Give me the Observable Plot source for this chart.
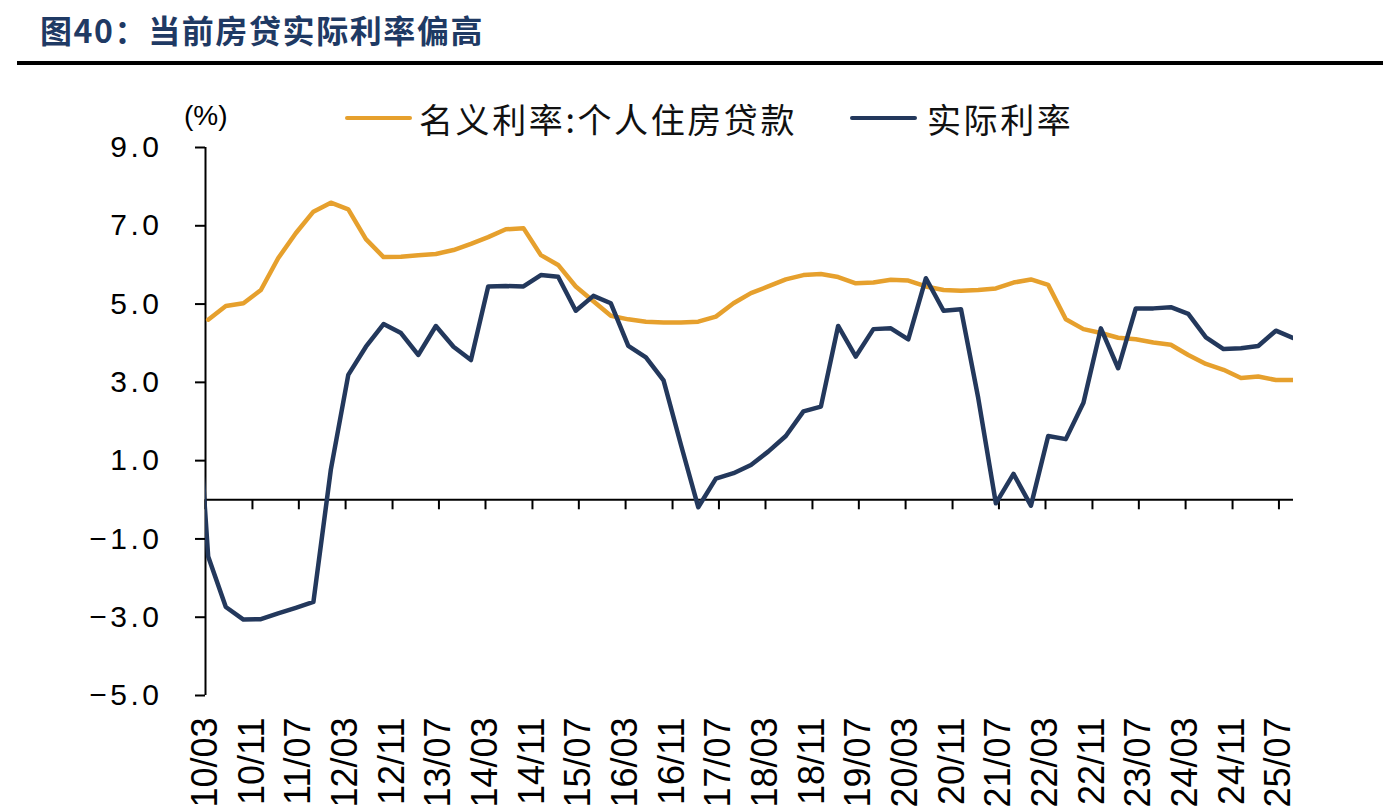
<!DOCTYPE html>
<html>
<head>
<meta charset="utf-8">
<script src="https://cdn.jsdelivr.net/npm/d3@7"></script>
<script src="https://cdn.jsdelivr.net/npm/@observablehq/plot@0.6"></script>
<style>
html, body { margin: 0; padding: 0; background: #fff; width: 1387px; height: 811px; overflow: hidden; }
#wrap { position: relative; width: 1387px; height: 811px; }
#title { position: absolute; left: 40px; top: 9px; font-family: "Noto Sans CJK SC"; font-weight: 700; font-size: 32px; line-height: 40px; color: #1f3a64; letter-spacing: 1.6px; white-space: nowrap; }
#rule { position: absolute; left: 17px; top: 61px; width: 1366px; height: 4px; background: #000; }
#chart { position: absolute; left: 0; top: 80px; }
.leg { position: absolute; top: 98px; height: 40px; display: flex; align-items: center; font-family: "Noto Sans CJK SC"; font-size: 34px; letter-spacing: 2.6px; color: #111; white-space: nowrap; }
.sw { display: inline-block; width: 67px; height: 4px; border-radius: 2px; margin-right: 7px; }
#unit { position: absolute; left: 184px; top: 100px; font-family: "Liberation Sans"; font-size: 28px; color: #000; }
g[aria-label="y-axis tick label"] text { letter-spacing: 3.5px; }
</style>
</head>
<body>
<div id="wrap">
  <div id="title"></div>
  <div id="rule"></div>
  <div id="unit"></div>
  <div id="legend"></div>
  <div id="chart"></div>
</div>
<script>
// ---- Data ----
const titleText = "图40：当前房贷实际利率偏高";
const unitText = "(%)";
const seriesNames = ["名义利率:个人住房贷款", "实际利率"];
const seriesColors = ["#e6a02d", "#23385c"];

// quarterly observations 2010-03 ... 2025-09
const nominalRate = [
  4.60, 4.95, 5.02, 5.36, 6.17, 6.81, 7.36, 7.59, 7.42, 6.66,
  6.20, 6.21, 6.25, 6.28, 6.38, 6.54, 6.71, 6.91, 6.94, 6.25,
  6.00, 5.45, 5.07, 4.70, 4.61, 4.55, 4.53, 4.53, 4.55, 4.68,
  5.02, 5.28, 5.45, 5.63, 5.74, 5.77, 5.69, 5.53, 5.55, 5.62,
  5.60, 5.45, 5.36, 5.34, 5.36, 5.40, 5.55, 5.63, 5.49, 4.61,
  4.36, 4.26, 4.14, 4.10, 4.02, 3.96, 3.70, 3.47, 3.32, 3.11,
  3.15, 3.06, 3.06
];
// real rate: first value is 2009-12 (only its segment into the plot is visible)
const realRate = [
  5.10,
  -1.45, -2.74, -3.06, -3.05, -2.90, -2.76, -2.61, 0.77, 3.19, 3.91,
  4.49, 4.26, 3.70, 4.44, 3.91, 3.57, 5.45, 5.46, 5.45, 5.74,
  5.70, 4.83, 5.21, 5.02, 3.93, 3.64, 3.05, 1.40, -0.19, 0.54,
  0.68, 0.89, 1.23, 1.63, 2.26, 2.38, 4.44, 3.66, 4.36, 4.38,
  4.10, 5.66, 4.83, 4.87, 2.60, -0.09, 0.66, -0.15, 1.63, 1.55,
  2.48, 4.38, 3.36, 4.89, 4.89, 4.92, 4.75, 4.15, 3.85, 3.87,
  3.93, 4.32, 4.13
];
const tickLabels = [
  "10/03", "10/11", "11/07", "12/03", "12/11", "13/07", "14/03", "14/11",
  "15/07", "16/03", "16/11", "17/07", "18/03", "18/11", "19/07", "20/03",
  "20/11", "21/07", "22/03", "22/11", "23/07", "24/03", "24/11", "25/07"
];
const yTicks = [9, 7, 5, 3, 1, -1, -3, -5];

// ---- Build tables ----
function quarterDates(startYear, startMonth, count) {
  const out = [];
  let y = startYear, m = startMonth;
  for (let i = 0; i < count; i++) {
    out.push(new Date(Date.UTC(y, m - 1, 15)));
    m += 3; if (m > 12) { m -= 12; y += 1; }
  }
  return out;
}
const nomDates = quarterDates(2010, 3, nominalRate.length);
const realDates = quarterDates(2009, 12, realRate.length);
const nominalData = nominalRate.map((v, i) => ({date: nomDates[i], value: v}));
const realData = realRate.map((v, i) => ({date: realDates[i], value: v}));
const tickDates = tickLabels.map(s => new Date(Date.UTC(2000 + +s.slice(0, 2), +s.slice(3) - 1, 1)));

const xStart = new Date(Date.UTC(2010, 2, 1));
const xEnd = new Date(Date.UTC(2025, 8, 15));

// ---- Text ----
document.getElementById("title").textContent = titleText;
document.getElementById("unit").textContent = unitText;
const legendPos = [345, 850];
const legend = document.getElementById("legend");
seriesNames.forEach((name, i) => {
  const item = document.createElement("div");
  item.className = "leg";
  item.style.left = legendPos[i] + "px";
  const sw = document.createElement("span");
  sw.className = "sw";
  sw.style.background = seriesColors[i];
  if (i === 1) sw.style.marginRight = "10px";
  const tx = document.createElement("span");
  tx.textContent = name;
  item.appendChild(sw);
  item.appendChild(tx);
  legend.appendChild(item);
});

// ---- Chart ----
const chart = Plot.plot({
  width: 1387,
  height: 731,
  marginTop: 67,
  marginBottom: 116,
  marginLeft: 205,
  marginRight: 94,
  style: {background: "transparent", fontFamily: "Liberation Sans", color: "#000", overflow: "visible"},
  x: {type: "utc", domain: [xStart, xEnd]},
  y: {domain: [-5, 9]},
  marks: [
    Plot.axisY({ticks: yTicks, label: null, tickSize: 10, tickPadding: 33, tickFormat: d3.format(".1f"),
      fontSize: 30, stroke: "#000", strokeWidth: 2, fill: "#000"}),
    Plot.axisX({ticks: tickDates, label: null, tickFormat: d3.utcFormat("%y/%m"), anchor: "bottom",
      tickSize: 0, tickPadding: 22, tickRotate: -90, fontSize: 36, fill: "#000"}),
    Plot.ruleX([xStart], {stroke: "#000", strokeWidth: 2}),
    Plot.ruleY([0], {stroke: "#000", strokeWidth: 2}),
    Plot.ruleX(tickDates, {x: d => d, y1: 0, y2: 0, insetBottom: -10, stroke: "#000", strokeWidth: 2}),
    Plot.line(nominalData, {x: "date", y: "value", stroke: seriesColors[0], strokeWidth: 4.5, clip: true}),
    Plot.line(realData, {x: "date", y: "value", stroke: seriesColors[1], strokeWidth: 4.5, clip: true})
  ]
});
document.getElementById("chart").appendChild(chart);
</script>
</body>
</html>
